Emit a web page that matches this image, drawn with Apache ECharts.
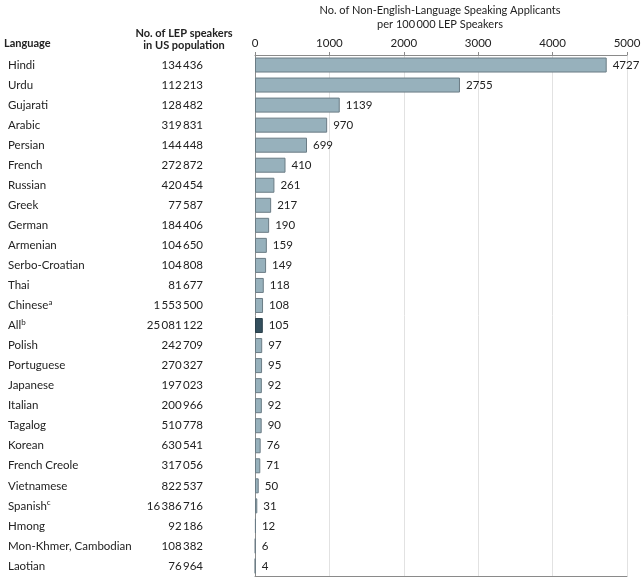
<!DOCTYPE html>
<html><head><meta charset="utf-8">
<script src="https://cdn.jsdelivr.net/npm/echarts@6/dist/echarts.min.js"></script>
<style>html,body{margin:0;padding:0;background:#fff}#c{width:644px;height:584px}</style>
</head><body><div id="c"></div>
<script>
const languages = ["Hindi","Urdu","Gujarati","Arabic","Persian","French","Russian","Greek","German","Armenian","Serbo-Croatian","Thai","Chinese|a","All|b","Polish","Portuguese","Japanese","Italian","Tagalog","Korean","French Creole","Vietnamese","Spanish|c","Hmong","Mon-Khmer, Cambodian","Laotian"];
const lepSpeakers = ["134 436","112 213","128 482","319 831","144 448","272 872","420 454","77 587","184 406","104 650","104 808","81 677","1 553 500","25 081 122","242 709","270 327","197 023","200 966","510 778","630 541","317 056","822 537","16 386 716","92 186","108 382","76 964"];
const applicantsPer100k = [4727,2755,1139,970,699,410,261,217,190,159,149,118,108,105,97,95,92,92,90,76,71,50,31,12,6,4];
const xTicks = [0,1000,2000,3000,4000,5000];

const FONT = 'Lato,"DejaVu Sans Condensed",sans-serif';
const FS = 11.5;
const chart = echarts.init(document.getElementById('c'), null, {renderer:'canvas'});
const idx = languages.map((_, i) => i);
const thin = s => s.replace(/ /g, '\u2009');
chart.setOption({
  animation:false,
  textStyle:{fontFamily:FONT},
  grid:{left:255, right:17, top:55, height:521},
  xAxis:[{type:'value', position:'top', min:xTicks[0], max:xTicks[xTicks.length-1], interval:1000,
    axisLine:{show:true, lineStyle:{color:'#8a8a8a'}},
    axisTick:{show:true, length:3, lineStyle:{color:'#8a8a8a'}},
    axisLabel:{color:'#222', fontSize:FS, fontFamily:FONT, margin:6, formatter:(v)=>String(v)},
    splitLine:{show:true, lineStyle:{color:'#e2e2e2'}}},
    {type:'value', position:'bottom', min:xTicks[0], max:xTicks[xTicks.length-1], interval:1000,
    axisLine:{show:true, lineStyle:{color:'#8a8a8a'}}, axisTick:{show:false}, axisLabel:{show:false}, splitLine:{show:false}}],
  yAxis:[
    {type:'category', inverse:true, data:idx, position:'left',
     axisLine:{show:true, lineStyle:{color:'#8a8a8a'}}, axisTick:{show:false},
     axisLabel:{margin:52, align:'right', color:'#222', fontSize:FS, fontFamily:FONT,
       formatter:(v)=>thin(lepSpeakers[v])}},
    {type:'category', inverse:true, data:idx, position:'left',
     axisLine:{show:false}, axisTick:{show:false},
     axisLabel:{margin:247, align:'left', color:'#222', fontSize:FS, fontFamily:FONT,
       formatter:(v)=>{const p=languages[v].split('|'); return p.length>1 ? p[0]+'{s|'+p[1]+'}' : p[0];},
       rich:{s:{fontSize:8, verticalAlign:'top', color:'#222', fontFamily:FONT, padding:[0,0,6,0]}}}}
  ],
  series:[{type:'bar', yAxisIndex:0, xAxisIndex:0, barWidth:15,
    data:applicantsPer100k.map((v,i)=>({value:v, itemStyle: languages[i].startsWith('All') ? {color:'#34505e', borderColor:'#2a3f4a'} : {}})),
    itemStyle:{color:'#97b1bc', borderColor:'#6b7c85', borderWidth:1},
    label:{show:true, position:'right', distance:6, color:'#222', fontSize:FS, fontFamily:FONT}}],
  graphic:[
    {type:'text', left:4, top:38, style:{text:'Language', font:'bold 11px '+FONT, fill:'#222'}},
    {type:'text', x:184, y:39, style:{text:'No. of LEP speakers\nin US population', font:'bold 11px '+FONT, fill:'#222', align:'center', verticalAlign:'middle', lineHeight:12}},
    {type:'text', x:440, y:17, style:{text:'No. of Non-English-Language Speaking Applicants\nper 100\u2009000 LEP Speakers', font:'11px '+FONT, fill:'#222', align:'center', verticalAlign:'middle', lineHeight:14}}
  ]
});
</script></body></html>
